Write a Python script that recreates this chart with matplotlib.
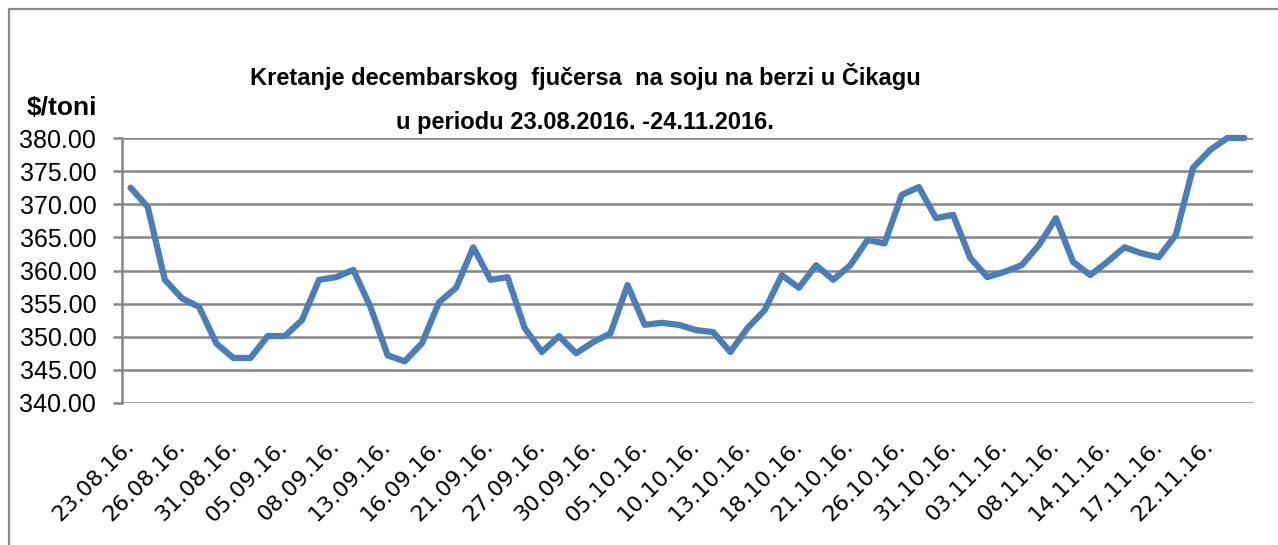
import matplotlib
matplotlib.use("Agg")
import matplotlib.pyplot as plt
import numpy as np
from matplotlib import font_manager
from matplotlib.patches import Rectangle

# daily closing prices ($/toni), 23.08.2016 - 24.11.2016
prices = [372.5, 369.6, 358.6, 355.8, 354.5, 349.0, 346.8, 346.8, 350.1, 350.1,
          352.5, 358.6, 359.0, 360.1, 354.5, 347.2, 346.3, 349.0, 355.2, 357.4,
          363.5, 358.6, 359.0, 351.3, 347.7, 350.1, 347.5, 349.2, 350.5, 357.8,
          351.8, 352.1, 351.8, 351.0, 350.7, 347.7, 351.3, 354.0, 359.3, 357.4,
          360.8, 358.6, 360.8, 364.6, 364.1, 371.4, 372.6, 367.9, 368.4, 361.9,
          359.0, 359.8, 360.8, 363.8, 367.9, 361.3, 359.3, 361.3, 363.5, 362.6,
          362.0, 365.4, 375.5, 378.2, 380.0, 380.0]

date_labels = ["23.08.16.", "26.08.16.", "31.08.16.", "05.09.16.", "08.09.16.",
               "13.09.16.", "16.09.16.", "21.09.16.", "27.09.16.", "30.09.16.",
               "05.10.16.", "10.10.16.", "13.10.16.", "18.10.16.", "21.10.16.",
               "26.10.16.", "31.10.16.", "03.11.16.", "08.11.16.", "14.11.16.",
               "17.11.16.", "22.11.16."]

y_ticks = [340, 345, 350, 355, 360, 365, 370, 375, 380]

title_1 = "Kretanje decembarskog  fjučersa  na soju na berzi u Čikagu"
title_2 = "u periodu 23.08.2016. -24.11.2016."

installed = {f.name for f in font_manager.fontManager.ttflist}
narrow = "Liberation Sans Narrow" if "Liberation Sans Narrow" in installed else "Liberation Sans"
narrow_fam = [narrow, "DejaVu Sans"]

grid_col = "#878787"
line_col = "#4a7ebb"

fig = plt.figure(figsize=(12.78, 5.45), dpi=100)
ax = fig.add_axes([122 / 1278, 1 - 403 / 545, (1253 - 122) / 1278, (403 - 138) / 545])

x = np.arange(len(prices))
ax.plot(x, prices, color=line_col, lw=4.5, solid_joinstyle="round", solid_capstyle="round",
        zorder=3, clip_on=False)

ax.set_xlim(-0.5, len(prices) - 0.5)
ax.set_ylim(340, 380)
ax.set_yticks(y_ticks)
ax.set_yticklabels(["%.2f" % v for v in y_ticks], fontsize=18, family=narrow_fam)
ax.yaxis.grid(True, color=grid_col, lw=1.8)
ax.set_axisbelow(True)

ax.set_xticks(x[::3])
ax.set_xticklabels(date_labels, rotation=45, ha="right", va="center",
                   rotation_mode="anchor", fontsize=16, family="DejaVu Sans")
ax.tick_params(axis="x", length=0, pad=29)
ax.tick_params(axis="y", length=6.5, width=1.8, color=grid_col, pad=12)

for s in ["top", "right", "bottom"]:
    ax.spines[s].set_visible(False)
ax.spines["left"].set_color(grid_col)
ax.spines["left"].set_linewidth(1.8)

fig.text(585 / 1278, 1 - 76 / 545, title_1, ha="center", va="center",
         fontsize=17, fontweight="bold", family=narrow_fam)
fig.text(585 / 1278, 1 - 122 / 545, title_2, ha="center", va="center",
         fontsize=17, fontweight="bold", family=narrow_fam)
fig.text(62 / 1278, 1 - 108 / 545, "$/toni", ha="center", va="center",
         fontsize=19, fontweight="bold", family=narrow_fam)

# outer chart frame
fig.patches.append(Rectangle((9 / 1278, -0.1), 1.2, 1 - 9 / 545 + 0.1, transform=fig.transFigure,
                             fill=False, edgecolor="#8c8c8c", lw=1.6))

fig.savefig("out.png", dpi=100)
